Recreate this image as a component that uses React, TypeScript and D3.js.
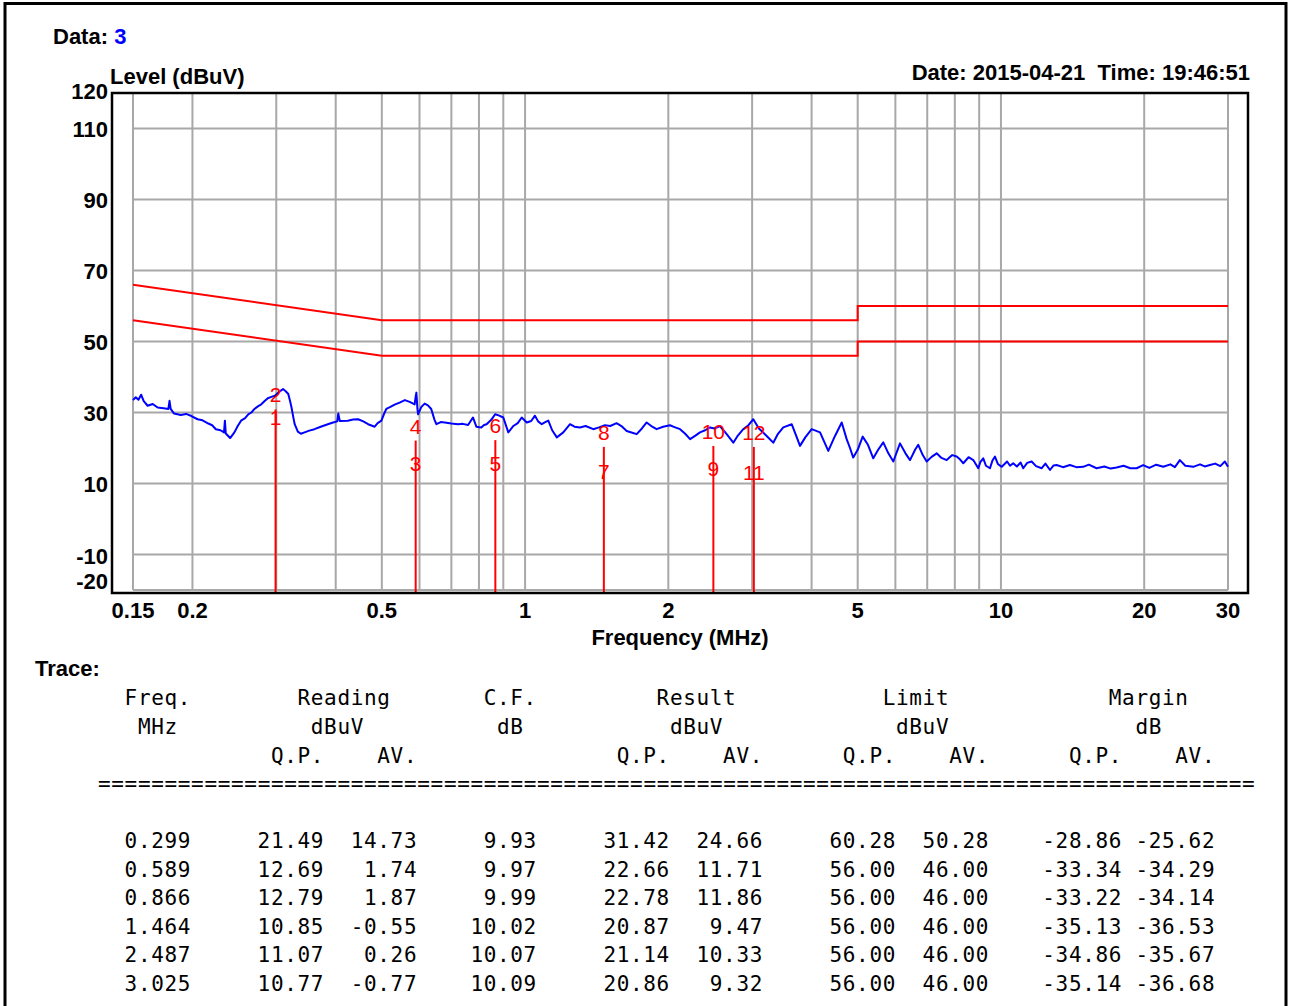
import * as d3 from "d3";

// spectrum trace (MHz, dBuV)
const traceMHz = [
  0.15, 0.152, 0.154, 0.156, 0.158, 0.161, 0.165, 0.169, 0.174, 0.178, 0.179, 0.18, 0.183, 0.189, 0.194, 0.199,
  0.205, 0.21, 0.216, 0.22, 0.224, 0.229, 0.233, 0.234, 0.235, 0.24, 0.245, 0.249, 0.253, 0.258, 0.262, 0.266,
  0.27, 0.275, 0.279, 0.284, 0.288, 0.293, 0.298, 0.304, 0.31, 0.314, 0.318, 0.321, 0.323, 0.326, 0.328, 0.333,
  0.338, 0.344, 0.352, 0.361, 0.372, 0.385, 0.395, 0.403, 0.405, 0.408, 0.424, 0.435, 0.446, 0.457, 0.468, 0.483,
  0.49, 0.499, 0.505, 0.511, 0.52, 0.532, 0.545, 0.559, 0.572, 0.586, 0.589, 0.591, 0.594, 0.596, 0.605, 0.615,
  0.625, 0.635, 0.645, 0.651, 0.665, 0.678, 0.7, 0.723, 0.74, 0.759, 0.777, 0.79, 0.809, 0.82, 0.83, 0.85,
  0.865, 0.88, 0.9, 0.922, 0.945, 0.965, 0.984, 1.008, 1.03, 1.049, 1.065, 1.084, 1.1, 1.119, 1.14, 1.166,
  1.203, 1.243, 1.27, 1.304, 1.34, 1.391, 1.43, 1.472, 1.51, 1.557, 1.6, 1.635, 1.68, 1.716, 1.76, 1.801,
  1.85, 1.89, 1.95, 2.016, 2.06, 2.117, 2.17, 2.222, 2.28, 2.331, 2.39, 2.447, 2.5, 2.568, 2.65, 2.739,
  2.8, 2.874, 2.95, 3.017, 3.1, 3.219, 3.323, 3.4, 3.488, 3.633, 3.7, 3.782, 3.88, 4.002, 4.167, 4.337,
  4.48, 4.628, 4.74, 4.817, 4.893, 5.0, 5.122, 5.25, 5.391, 5.52, 5.659, 5.8, 5.94, 6.136, 6.3, 6.441,
  6.6, 6.703, 6.85, 6.981, 7.15, 7.327, 7.5, 7.69, 7.9, 8.071, 8.2, 8.334, 8.55, 8.747, 8.961, 9.05,
  9.18, 9.3, 9.483, 9.6, 9.715, 9.85, 10.04, 10.3, 10.45, 10.61, 10.8, 11.0, 11.14, 11.35, 11.6, 11.85,
  12.18, 12.4, 12.68, 12.9, 13.09, 13.5, 13.96, 14.4, 14.89, 15.3, 15.88, 16.5, 17.0, 17.5, 18.1, 18.7,
  19.28, 19.9, 20.5, 21.2, 21.93, 22.7, 23.2, 23.77, 24.4, 25.35, 26.2, 26.8, 27.49, 28.2, 28.9, 29.55,
  30,
];
const traceDbuv = [
  33.5, 34.3, 33.6, 35.0, 33.2, 31.9, 32.4, 31.4, 31.2, 31.0, 33.3, 31.0, 29.7, 29.3, 29.6, 29.0,
  28.1, 27.8, 26.9, 26.4, 25.3, 25.0, 24.4, 27.7, 24.1, 22.8, 24.4, 26.2, 27.7, 28.4, 29.5, 30.0,
  31.0, 31.8, 32.3, 33.3, 34.0, 34.4, 34.7, 35.8, 36.6, 36.0, 35.2, 33.0, 31.4, 28.5, 26.7, 24.6,
  24.0, 24.4, 24.9, 25.3, 26.0, 26.7, 27.2, 27.5, 29.7, 27.6, 27.7, 28.0, 28.1, 27.5, 26.7, 26.0,
  27.0, 27.7, 29.5, 31.0, 31.5, 32.2, 32.8, 33.5, 33.0, 32.3, 34.5, 35.6, 31.0, 29.5, 31.5, 32.5,
  32.0, 31.0, 28.0, 26.7, 27.3, 27.2, 26.9, 26.7, 26.8, 26.5, 28.6, 26.0, 25.8, 26.5, 26.7, 28.0,
  29.5, 29.2, 28.6, 24.4, 26.2, 27.0, 28.6, 27.2, 27.6, 29.1, 27.5, 26.7, 27.2, 27.7, 25.0, 23.0,
  24.4, 26.7, 26.0, 25.8, 26.2, 25.3, 25.8, 26.4, 26.2, 27.0, 26.0, 24.8, 24.3, 23.9, 25.5, 27.2,
  26.0, 25.3, 26.0, 26.4, 25.9, 25.3, 24.0, 22.5, 23.5, 24.4, 25.0, 25.8, 25.5, 26.2, 24.0, 21.5,
  23.5, 25.3, 26.5, 28.1, 25.5, 23.4, 21.5, 24.0, 25.8, 26.7, 24.0, 20.6, 23.0, 25.3, 24.4, 19.2,
  23.4, 27.2, 22.5, 20.0, 17.3, 19.5, 23.2, 21.0, 17.1, 19.5, 21.6, 18.5, 16.2, 21.3, 18.5, 16.6,
  19.5, 20.9, 18.0, 16.2, 17.5, 18.5, 17.2, 16.6, 18.0, 17.6, 16.8, 15.7, 17.4, 16.6, 14.3, 16.0,
  17.1, 15.0, 14.3, 16.5, 17.6, 15.5, 14.7, 16.2, 15.0, 15.7, 14.8, 15.9, 14.3, 15.8, 16.2, 14.9,
  14.3, 15.6, 13.8, 15.1, 15.2, 14.6, 15.2, 14.6, 14.7, 15.3, 14.3, 14.8, 14.2, 14.5, 15.0, 14.3,
  14.3, 15.2, 14.4, 15.3, 14.7, 15.4, 14.6, 16.6, 15.0, 14.7, 15.4, 14.8, 15.2, 15.6, 14.9, 16.2,
  14.7,
];

// CISPR class B limit lines
const limitQPLine: [number, number][] = [[0.15, 66], [0.5, 56], [5, 56], [5, 60], [30, 60]];
const limitAVLine: [number, number][] = [[0.15, 56], [0.5, 46], [5, 46], [5, 50], [30, 50]];

// axis ticks
const gridFreqs = [0.15, 0.2, 0.3, 0.4, 0.5, 0.6, 0.7, 0.8, 0.9, 1, 2, 3, 4, 5, 6, 7, 8, 9, 10, 20, 30];
const freqLabels = [0.15, 0.2, 0.5, 1, 2, 5, 10, 20, 30];
const gridLevels = [110, 90, 70, 50, 30, 10, -10, -20];
const levelLabels = [120, 110, 90, 70, 50, 30, 10, -10, -20];

// measured results table
const freqMHz = [0.299, 0.589, 0.866, 1.464, 2.487, 3.025];
const readingQP = [21.49, 12.69, 12.79, 10.85, 11.07, 10.77];
const readingAV = [14.73, 1.74, 1.87, -0.55, 0.26, -0.77];
const corrFactor = [9.93, 9.97, 9.99, 10.02, 10.07, 10.09];
const resultQP = [31.42, 22.66, 22.78, 20.87, 21.14, 20.86];
const resultAV = [24.66, 11.71, 11.86, 9.47, 10.33, 9.32];
const limitQP = [60.28, 56.0, 56.0, 56.0, 56.0, 56.0];
const limitAV = [50.28, 46.0, 46.0, 46.0, 46.0, 46.0];
const marginQP = [-28.86, -33.34, -33.22, -35.13, -34.86, -35.14];
const marginAV = [-25.62, -34.29, -34.14, -36.53, -35.67, -36.68];

const SANS = "'Liberation Sans', Arial, sans-serif";
const MONO = "'DejaVu Sans Mono', monospace";
const CH = 13.3; // monospace cell width
const col = (c: number) => 98 + c * CH;

export default function App() {
  const x = d3.scaleLog().domain([0.15, 30]).range([133, 1228]);
  const y = d3.scaleLinear().domain([-20, 120]).range([590, 93]);
  const line = d3.line<[number, number]>().x((d) => x(d[0])).y((d) => y(d[1]));
  const trace: [number, number][] = traceMHz.map((f, i) => [f, traceDbuv[i]]);

  const bold = { fontFamily: SANS, fontWeight: 700, fontSize: 22, fill: "#000" } as const;
  const mono = { fontFamily: MONO, fontSize: 21, letterSpacing: 0.66, fill: "#000" } as const;

  const headers: [string, number][][] = [
    [["Freq.", 2], ["Reading", 15], ["C.F.", 29], ["Result", 42], ["Limit", 59], ["Margin", 76]],
    [["MHz", 3], ["dBuV", 16], ["dB", 30], ["dBuV", 43], ["dBuV", 60], ["dB", 78]],
    [["Q.P.", 13], ["AV.", 21], ["Q.P.", 39], ["AV.", 47], ["Q.P.", 56], ["AV.", 64], ["Q.P.", 73], ["AV.", 81]],
  ];
  const headerY = [705, 734, 763];

  // [values, end column, decimals]
  const columns: [number[], number, number][] = [
    [readingQP, 17, 2], [readingAV, 24, 2], [corrFactor, 33, 2],
    [resultQP, 43, 2], [resultAV, 50, 2], [limitQP, 60, 2], [limitAV, 67, 2],
    [marginQP, 77, 2], [marginAV, 84, 2],
  ];
  const rowY = (i: number) => 848 + i * 28.5;

  return (
    <div style={{ position: "absolute", left: 0, top: 0 }}>
      <svg width={1289} height={1006} style={{ display: "block", background: "#fff" }}>
        <rect x={5} y={3.5} width={1281} height={1020} fill="none" stroke="#000" strokeWidth={3} />

        <text x={53} y={44} {...bold}>
          Data: <tspan fill="#0000ff">3</tspan>
        </text>
        <text x={110} y={84} {...bold}>Level (dBuV)</text>
        <text x={1250} y={80} textAnchor="end" {...bold} style={{ whiteSpace: "pre" }}>
          {"Date: 2015-04-21  Time: 19:46:51"}
        </text>

        {/* grid */}
        {gridFreqs.map((f) => (
          <line key={"gx" + f} x1={x(f)} x2={x(f)} y1={93} y2={590} stroke="#a8a8a8" strokeWidth={2} />
        ))}
        {gridLevels.map((l) => (
          <line key={"gy" + l} x1={133} x2={1228} y1={y(l)} y2={y(l)} stroke="#a8a8a8" strokeWidth={2} />
        ))}

        {/* limit lines */}
        <path d={line(limitQPLine) || ""} fill="none" stroke="#ff0000" strokeWidth={2} />
        <path d={line(limitAVLine) || ""} fill="none" stroke="#ff0000" strokeWidth={2} />

        {/* trace */}
        <path d={line(trace) || ""} fill="none" stroke="#0000ff" strokeWidth={2} strokeLinejoin="round" />

        {/* markers */}
        {freqMHz.map((f, i) => (
          <g key={"m" + f} fill="#ff0000" fontFamily={SANS} fontSize={21} textAnchor="middle">
            <line x1={x(f)} x2={x(f)} y1={y(-20) + 2} y2={y(resultQP[i]) + 2} stroke="#ff0000" strokeWidth={2} />
            <text x={x(f)} y={y(resultQP[i]) - 5}>{2 * i + 2}</text>
            <text x={x(f)} y={y(resultAV[i]) - 6}>{2 * i + 1}</text>
          </g>
        ))}

        {/* frame */}
        <rect x={112} y={93} width={1136} height={500} fill="none" stroke="#000" strokeWidth={2.5} />

        {/* axes labels */}
        {levelLabels.map((l) => (
          <text
            key={"yl" + l}
            x={108}
            y={l === -10 ? 564 : l === -20 ? 589 : l === 120 ? 99 : y(l) + 8}
            textAnchor="end"
            {...bold}
          >
            {l}
          </text>
        ))}
        {freqLabels.map((f) => (
          <text key={"xl" + f} x={x(f)} y={618} textAnchor="middle" {...bold}>
            {f}
          </text>
        ))}
        <text x={680} y={645} textAnchor="middle" {...bold}>Frequency (MHz)</text>

        {/* table */}
        <text x={35} y={676} {...bold}>Trace:</text>
        {headers.map((row, r) =>
          row.map(([t, c]) => (
            <text key={"h" + r + t + c} x={col(c)} y={headerY[r]} {...mono}>
              {t}
            </text>
          ))
        )}
        <text x={col(0)} y={791} {...mono}>{"=".repeat(87)}</text>
        {freqMHz.map((f, i) => (
          <g key={"r" + i}>
            <text x={col(2)} y={rowY(i)} {...mono}>{f.toFixed(3)}</text>
            {columns.map(([vals, end, dp], j) => {
              const s = vals[i].toFixed(dp);
              return (
                <text key={j} x={col(end - s.length)} y={rowY(i)} {...mono}>
                  {s}
                </text>
              );
            })}
          </g>
        ))}
      </svg>
    </div>
  );
}
